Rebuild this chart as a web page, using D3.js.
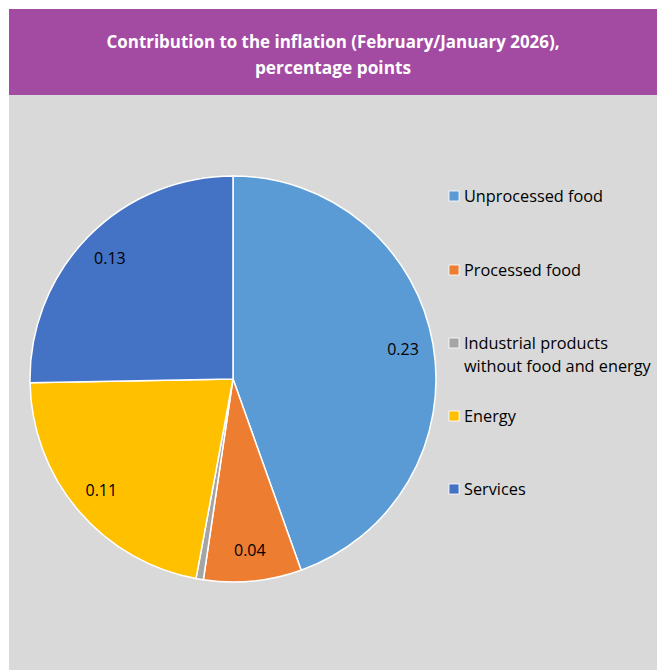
<!DOCTYPE html>
<html><head><meta charset="utf-8">
<script src="https://cdn.jsdelivr.net/npm/d3@7"></script>
<style>
html,body{margin:0;padding:0;background:#fff;}
svg{display:block;}
</style></head>
<body>
<script>
const categories = ["Unprocessed food","Processed food","Industrial products without food and energy","Energy","Services"];
const legendLines = [["Unprocessed food"],["Processed food"],["Industrial products","without food and energy"],["Energy"],["Services"]];
const values = [0.229, 0.040, 0.003, 0.112, 0.130];
const showLabel = [true, true, false, true, true];
const colors = ["#5B9BD5","#ED7D31","#A5A5A5","#FFC000","#4472C4"];
const titleLines = ["Contribution to the inflation (February/January 2026),","percentage points"];

const W = 657, H = 670;
const svg = d3.select("body").append("svg").attr("width", W).attr("height", H);
const font = "'Open Sans', Lato, sans-serif";

svg.append("rect").attr("x", 9).attr("y", 95).attr("width", W - 9).attr("height", H - 95).attr("fill", "#D9D9D9");
svg.append("rect").attr("x", 9).attr("y", 9).attr("width", W - 9).attr("height", 86).attr("fill", "#A34AA3");
svg.append("g").selectAll("text").data(titleLines).join("text")
  .attr("x", 333).attr("y", (d, i) => 48 + i * 26)
  .attr("text-anchor", "middle").attr("fill", "#fff")
  .attr("font-family", font).attr("font-weight", "bold").attr("font-size", 17.3)
  .attr("textLength", (d, i) => i === 0 ? 453 : null)
  .attr("lengthAdjust", "spacingAndGlyphs")
  .text(d => d);

const cx = 233, cy = 379, R = 203;
const pie = d3.pie().sort(null).value(d => d)(values);
const arc = d3.arc().innerRadius(0).outerRadius(R);
const labelArc = d3.arc().innerRadius(R * 0.85).outerRadius(R * 0.85);
const g = svg.append("g").attr("transform", `translate(${cx},${cy})`);
g.selectAll("path").data(pie).join("path")
  .attr("d", arc).attr("fill", (d, i) => colors[i])
  .attr("stroke", "#fff").attr("stroke-width", 1.5);
g.selectAll("text").data(pie.filter((d, i) => showLabel[i])).join("text")
  .attr("transform", d => `translate(${labelArc.centroid(d)})`)
  .attr("text-anchor", "middle").attr("dy", "0.35em")
  .attr("font-family", font).attr("font-size", 16).attr("fill", "#000")
  .text(d => d3.format(".2f")(d.value));

const legendY = [196, 270, 343, 416, 489];
const lg = svg.append("g");
legendLines.forEach((lines, i) => {
  lg.append("rect").attr("x", 449).attr("y", legendY[i] - 5).attr("width", 10).attr("height", 10)
    .attr("fill", colors[i]).attr("stroke", "#fff").attr("stroke-width", 0.8);
  lines.forEach((t, j) => {
    lg.append("text").attr("x", 464).attr("y", legendY[i] + j * 23).attr("dy", "0.35em")
      .attr("font-family", font).attr("font-size", 16.3).attr("fill", "#000").text(t);
  });
});
</script>
</body></html>
